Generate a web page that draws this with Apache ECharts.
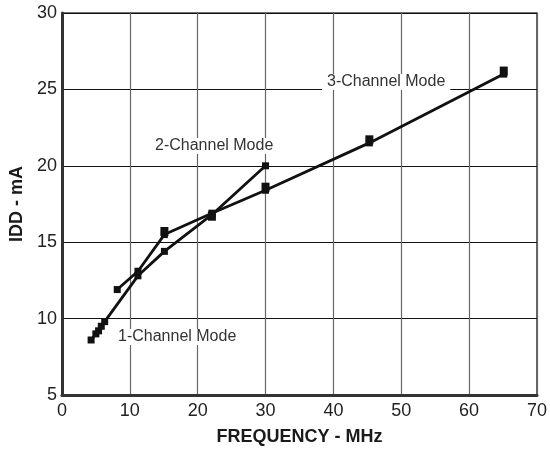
<!DOCTYPE html>
<html>
<head>
<meta charset="utf-8">
<script src="https://cdn.jsdelivr.net/npm/echarts@6/dist/echarts.min.js"></script>
<style>html,body{margin:0;padding:0;background:#fff;}#c{width:550px;height:451px;}</style>
</head>
<body>
<div id="c"></div>
<script>
// Data
var xTicks = [0, 10, 20, 30, 40, 50, 60, 70];
var yTicks = [5, 10, 15, 20, 25, 30];
var freqA = [4.3, 5.0, 5.4, 5.8, 6.3, 11.2, 15.1, 22.1, 30.0];
var iddA  = [8.6, 9.0, 9.2, 9.5, 9.8, 12.8, 14.4, 16.8, 20.0];
var freqB = [8.15, 11.2, 15.1, 22.1, 30.0, 45.3, 65.1];
var iddB  = [11.9, 13.1, 15.5, 16.9, 18.4, 21.5, 26.0];
var freqC = [15.1, 22.1, 30.0, 45.3, 65.1];
var iddC  = [15.7, 16.7, 18.6, 21.7, 26.2];
var modeLabels = ['1-Channel Mode', '2-Channel Mode', '3-Channel Mode'];

function pairs(xs, ys) { return xs.map(function (x, i) { return [x, ys[i]]; }); }

var font = 'Liberation Sans, Arial, Helvetica, sans-serif';
var chart = echarts.init(document.getElementById('c'), null, {renderer: 'canvas'});
function lineSeries(name, d) {
  return {
    name: name, type: 'line', data: d, symbol: 'rect', symbolSize: 7,
    showAllSymbol: true, z: 3,
    lineStyle: {color: '#111', width: 2.8},
    itemStyle: {color: '#111', opacity: 1},
    emphasis: {disabled: true}, animation: false
  };
}
chart.setOption({
  animation: false,
  grid: {left: 61, right: 8, top: 13, bottom: 55, show: true, borderColor: '#444', borderWidth: 1.6, containLabel: false},
  xAxis: {
    type: 'value', min: xTicks[0], max: xTicks[xTicks.length - 1], interval: 10,
    name: 'FREQUENCY - MHz', nameLocation: 'middle', nameGap: 33,
    nameTextStyle: {fontFamily: font, fontWeight: 'bold', fontSize: 18, color: '#1a1a1a'},
    axisLine: {show: true, onZero: false, lineStyle: {color: '#333', width: 3}},
    axisTick: {show: false},
    axisLabel: {fontFamily: font, fontSize: 18, color: '#222', margin: 7},
    splitLine: {show: true, lineStyle: {color: '#666', width: 1.2}}
  },
  yAxis: {
    type: 'value', min: yTicks[0], max: yTicks[yTicks.length - 1], interval: 5,
    name: 'IDD - mA', nameLocation: 'middle', nameGap: 35,
    nameTextStyle: {fontFamily: font, fontWeight: 'bold', fontSize: 18, color: '#1a1a1a'},
    axisLine: {show: true, onZero: false, lineStyle: {color: '#333', width: 3}},
    axisTick: {show: false},
    axisLabel: {fontFamily: font, fontSize: 18, color: '#222', margin: 5},
    splitLine: {show: true, lineStyle: {color: '#111', width: 1.2}}
  },
  series: [
    lineSeries('A', pairs(freqA, iddA)),
    lineSeries('B', pairs(freqB, iddB)),
    {
      name: 'C', type: 'scatter', data: pairs(freqC, iddC), symbol: 'rect', symbolSize: [8, 9], z: 4,
      itemStyle: {color: '#111', opacity: 1}, emphasis: {disabled: true}, animation: false
    }
  ],
  graphic: [
    {type: 'text', left: 116, top: 329, z: 100, style: {text: modeLabels[0], font: '16px ' + font, fill: '#333', backgroundColor: '#fff', padding: [0, 2]}},
    {type: 'text', left: 153, top: 138, z: 100, style: {text: modeLabels[1], font: '16px ' + font, fill: '#333', backgroundColor: '#fff', padding: [0, 2]}},
    {type: 'text', left: 322, top: 74, z: 100, style: {text: modeLabels[2], font: '16px ' + font, fill: '#333', backgroundColor: '#fff', padding: [0, 5]}}
  ]
});
</script>
</body>
</html>
